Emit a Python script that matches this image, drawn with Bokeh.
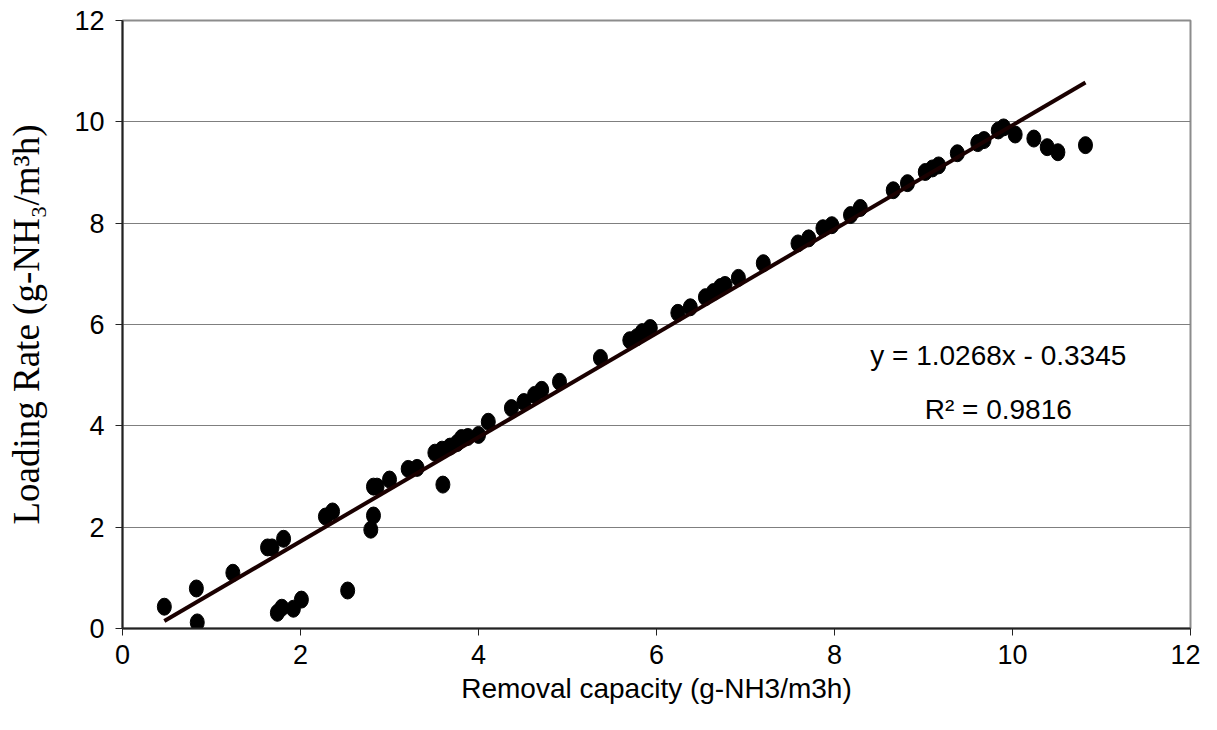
from bokeh.plotting import figure
from bokeh.models import Range1d, FixedTicker, Label, ColumnDataSource
from bokeh.embed import file_html
from bokeh.resources import INLINE

# Measured data: removal capacity (x) vs loading rate (y)
removal = [0.47, 0.83, 0.84, 1.24, 1.63, 1.68, 1.81, 1.74, 1.79, 1.92, 2.01,
           2.28, 2.36, 2.53, 2.79, 2.82, 2.82, 2.86, 3.00, 3.21, 3.31, 3.51,
           3.59, 3.60, 3.68, 3.76, 3.81, 3.88, 4.00, 4.11, 4.37, 4.51, 4.63,
           4.71, 4.91, 5.37, 5.70, 5.78, 5.84, 5.93, 6.24, 6.38, 6.55, 6.64,
           6.72, 6.77, 6.92, 7.20, 7.59, 7.71, 7.87, 7.97, 8.18, 8.29, 8.66,
           8.82, 9.02, 9.10, 9.17, 9.38, 9.61, 9.68, 9.84, 9.90, 10.03, 10.24,
           10.39, 10.51, 10.82]
loading = [0.43, 0.79, 0.12, 1.10, 1.60, 1.60, 1.77, 0.31, 0.41, 0.39, 0.57,
           2.21, 2.31, 0.75, 1.95, 2.23, 2.80, 2.80, 2.94, 3.15, 3.17, 3.47,
           3.53, 2.84, 3.59, 3.66, 3.76, 3.78, 3.82, 4.08, 4.35, 4.47, 4.61,
           4.71, 4.87, 5.34, 5.69, 5.75, 5.85, 5.93, 6.23, 6.34, 6.54, 6.64,
           6.74, 6.78, 6.92, 7.21, 7.60, 7.70, 7.90, 7.96, 8.16, 8.30, 8.65,
           8.79, 9.01, 9.08, 9.14, 9.38, 9.58, 9.64, 9.83, 9.89, 9.75, 9.67,
           9.50, 9.40, 9.54]

slope = 1.0268
intercept = -0.3345
r_squared = 0.9816

x_ticks = [0, 2, 4, 6, 8, 10, 12]
y_ticks = [0, 2, 4, 6, 8, 10, 12]

p = figure(frame_width=1068, frame_height=608,
           min_border_left=122, min_border_right=10,
           min_border_top=20, min_border_bottom=80,
           x_range=Range1d(0, 12), y_range=Range1d(0, 12),
           output_backend="svg", toolbar_location=None,
           background_fill_color="white", border_fill_color="white")

p.outline_line_color = "#8c8c8c"
p.outline_line_width = 2

p.xgrid.visible = False
p.ygrid.ticker = FixedTicker(ticks=y_ticks)
p.ygrid.grid_line_color = "#7f7f7f"
p.ygrid.grid_line_width = 1

for ax, ticks in ((p.xaxis[0], x_ticks), (p.yaxis[0], y_ticks)):
    ax.ticker = FixedTicker(ticks=ticks)
    ax.minor_tick_line_color = None
    ax.major_tick_in = 0
    ax.major_tick_out = 7
    ax.major_tick_line_color = "#222222"
    ax.axis_line_color = "#222222"
    ax.axis_line_width = 2
    ax.major_tick_line_width = 1
    ax.major_label_text_font = "Liberation Sans"
    ax.major_label_text_font_size = "27px"
    ax.major_label_text_color = "black"

p.xaxis.major_label_standoff = 9
p.yaxis.major_label_standoff = 11

p.xaxis.axis_label = "Removal capacity (g-NH3/m3h)"
p.xaxis.axis_label_text_font = "Liberation Sans"
p.xaxis.axis_label_text_font_size = "28px"
p.xaxis.axis_label_text_font_style = "normal"
p.xaxis.axis_label_text_color = "black"
p.xaxis.axis_label_standoff = 6

p.yaxis.axis_label = "Loading Rate (g-NH\u2083/m\u00b3h)"
p.yaxis.axis_label_text_font = "Liberation Serif"
p.yaxis.axis_label_text_font_size = "37px"
p.yaxis.axis_label_text_font_style = "normal"
p.yaxis.axis_label_text_color = "black"
p.yaxis.axis_label_standoff = 24

src = ColumnDataSource(data=dict(x=removal, y=loading))
p.ellipse("x", "y", width=14, height=17, width_units="screen",
          height_units="screen", source=src,
          fill_color="black", line_color="black")

x0, x1 = min(removal), max(removal)
p.line([x0, x1], [slope * x0 + intercept, slope * x1 + intercept],
       line_color="#1a0000", line_width=4)

eq_txt = f"y = {slope}x - {abs(intercept)}"
r_txt = f"R\u00b2 = {r_squared}"
p.add_layout(Label(x=9.84, y=5.38, text=eq_txt, text_align="center",
                   text_baseline="middle", text_font="Liberation Sans",
                   text_font_size="28px", text_color="black"))
p.add_layout(Label(x=9.84, y=4.32, text=r_txt, text_align="center",
                   text_baseline="middle", text_font="Liberation Sans",
                   text_font_size="28px", text_color="black"))

open("out.html", "w").write(file_html(p, INLINE))
